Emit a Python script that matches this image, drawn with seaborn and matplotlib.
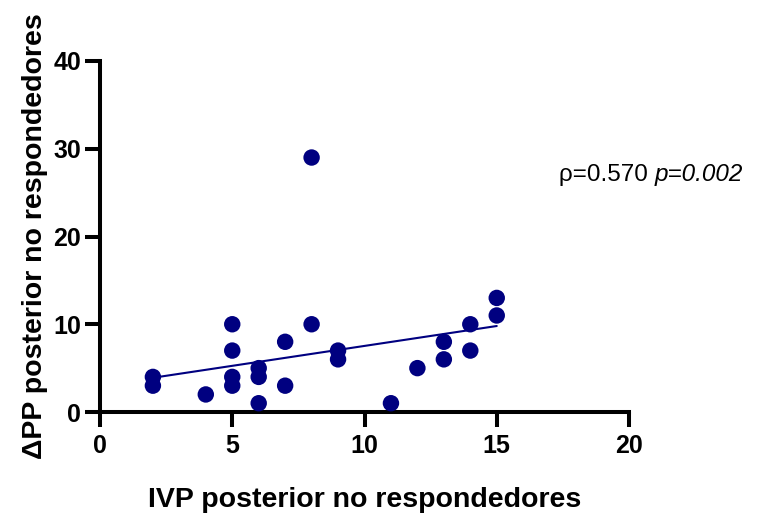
import matplotlib
matplotlib.use("Agg")
import matplotlib.pyplot as plt
import seaborn as sns
import pandas as pd

# Data
ivp = [2, 2, 4, 5, 5, 5, 5, 6, 6, 6, 7, 7, 8, 8, 9, 9, 11, 12, 13, 13, 14, 14, 15, 15]
dpp = [4, 3, 2, 10, 7, 4, 3, 5, 4, 1, 8, 3, 29, 10, 7, 6, 1, 5, 8, 6, 10, 7, 13, 11]
fit_x = [2, 15]
fit_y = [3.9, 9.8]
x_ticks = [0, 5, 10, 15, 20]
y_ticks = [0, 10, 20, 30, 40]
annot_rho = "ρ=0.570 "
annot_p = "p=0.002"

sns.set_theme(style="ticks")
plt.rcParams['font.family'] = ['Liberation Sans', 'DejaVu Sans']
plt.rcParams.update({"text.color": "black", "axes.labelcolor": "black",
                     "xtick.color": "black", "ytick.color": "black",
                     "axes.edgecolor": "black"})

df = pd.DataFrame({"x": ivp, "y": dpp})
fit = pd.DataFrame({"x": fit_x, "y": fit_y})

fig = plt.figure(figsize=(7.64, 5.19), dpi=100)
ax = fig.add_axes([100/764, 1-412/519, 529/764, 351/519])

navy = "#000080"
sns.lineplot(data=fit, x="x", y="y", ax=ax, color=navy, linewidth=1.5, zorder=2)
sns.scatterplot(data=df, x="x", y="y", ax=ax, color=navy, s=140, edgecolor="none", zorder=3, clip_on=False)

ax.set_xlim(0, 20)
ax.set_ylim(0, 40)
ax.set_xticks(x_ticks)
ax.set_yticks(y_ticks)
ax.set_xticklabels([str(t) for t in x_ticks], fontweight="bold", fontsize=18)
ax.set_yticklabels([str(t) for t in y_ticks], fontweight="bold", fontsize=18)
ax.tick_params(axis="both", direction="out", length=10.5, width=2.9, color="black")
ax.tick_params(axis="x", pad=5)
ax.tick_params(axis="y", pad=3)
for side in ["left", "bottom"]:
    ax.spines[side].set_linewidth(2.9)
    ax.spines[side].set_color("black")
    ax.spines[side].set_capstyle("projecting")
sns.despine(ax=ax)

ax.set_xlabel("IVP posterior no respondedores", fontsize=20.5, fontweight="bold", labelpad=21)
ax.set_ylabel("ΔPP posterior no respondedores", fontsize=20.5, fontweight="bold", labelpad=4)

t1 = fig.text(559/764, 1-175/519, annot_rho, fontsize=17.5, va="center", ha="left")
fig.canvas.draw()
bb = t1.get_window_extent()
fig.text(bb.x1/764, 1-175/519, annot_p, fontsize=17.5, va="center", ha="left", style="italic")

fig.savefig("out.png", dpi=100)
